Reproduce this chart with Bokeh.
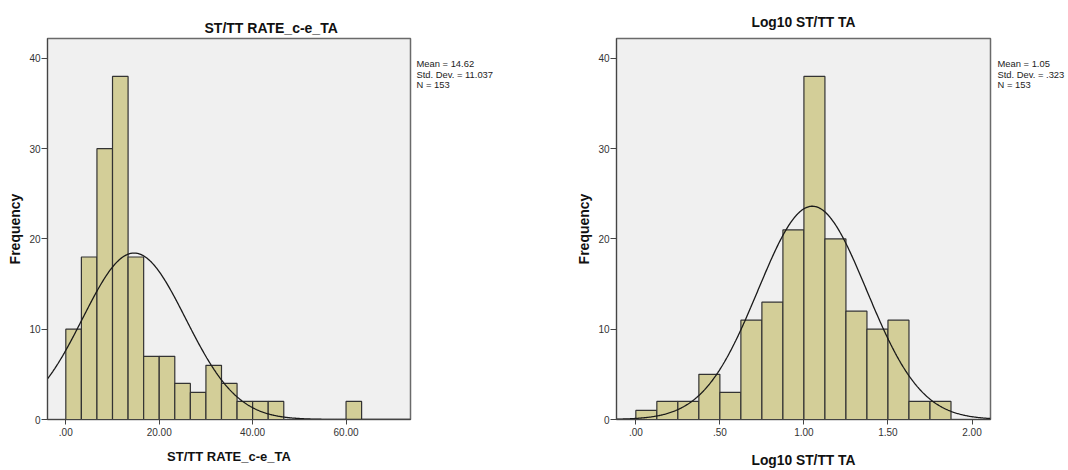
import numpy as np
from bokeh.plotting import figure
from bokeh.layouts import row
from bokeh.models import Range1d, FixedTicker
from bokeh.core.properties import value
from bokeh.embed import file_html
from bokeh.resources import INLINE

# ---------------- data ----------------
left_title = "ST/TT RATE_c-e_TA"
left_bin_start = 0.0
left_bin_width = 10 / 3
left_counts = [10, 18, 30, 38, 18, 7, 7, 4, 3, 6, 4, 2, 2, 2, 0, 0, 0, 0, 2]
left_mean, left_sd, left_n = 14.62, 11.037, 153
left_stats = ["Mean = 14.62", "Std. Dev. = 11.037", "N = 153"]
left_xticks = [0, 20, 40, 60]
left_xtick_labels = [".00", "20.00", "40.00", "60.00"]

right_title = "Log10 ST/TT TA"
right_bin_start = 0.0
right_bin_width = 0.125
right_counts = [1, 2, 2, 5, 3, 11, 13, 21, 38, 20, 12, 10, 11, 2, 2]
right_mean, right_sd, right_n = 1.05, 0.323, 153
right_stats = ["Mean = 1.05", "Std. Dev. = .323", "N = 153"]
right_xticks = [0, 0.5, 1, 1.5, 2]
right_xtick_labels = [".00", ".50", "1.00", "1.50", "2.00"]

yticks = [0, 10, 20, 30, 40]
ytick_labels = ["0", "10", "20", "30", "40"]
y_label = "Frequency"

FONT = "Liberation Sans"
H = 470
TOP, BOTTOM = 38, 49
Y_END = 42.2


def make_hist(title, counts, bin_start, bin_width, mean, sd, n,
              xticks, xtick_labels, x_range, width, mb_left,
              title_align, title_offset, title_standoff, title_size,
              xlab_size, xlab_standoff, ylab_standoff):
    p = figure(width=width, height=H, output_backend="svg",
               toolbar_location=None, tools="",
               x_range=Range1d(*x_range), y_range=Range1d(0, Y_END),
               min_border_left=mb_left, min_border_right=3,
               min_border_top=TOP, min_border_bottom=BOTTOM)
    p.background_fill_color = "#F0F0F0"
    p.border_fill_color = "white"
    p.outline_line_color = "#6a6a6a"
    p.outline_line_width = 1.5
    p.grid.visible = False

    lefts = [bin_start + i * bin_width for i in range(len(counts))]
    rights = [l + bin_width for l in lefts]
    nz = [i for i, c in enumerate(counts) if c > 0]
    p.quad(left=[lefts[i] for i in nz], right=[rights[i] for i in nz],
           bottom=0, top=[counts[i] for i in nz],
           fill_color="#D3CE98", line_color="#333333", line_width=1.2)

    xs = np.linspace(x_range[0], x_range[1], 500)
    peak = n * bin_width / (sd * np.sqrt(2 * np.pi))
    ys = peak * np.exp(-0.5 * ((xs - mean) / sd) ** 2)
    p.line(xs, ys, line_color="#1a1a1a", line_width=1.3)

    p.title.text = title
    p.title.align = title_align
    p.title.offset = title_offset
    p.title.standoff = title_standoff
    p.title.text_font = FONT
    p.title.text_font_style = "bold"
    p.title.text_font_size = title_size
    p.title.text_color = "#111111"

    for ax in (p.xaxis[0], p.yaxis[0]):
        ax.axis_line_color = "#444444"
        ax.major_tick_line_color = "#444444"
        ax.major_tick_in = 0
        ax.minor_tick_line_color = None
        ax.major_label_text_font = FONT
        ax.major_label_text_font_size = "10px"
        ax.major_label_text_color = "#333333"
        ax.axis_label_text_font = FONT
        ax.axis_label_text_font_style = "bold"
        ax.axis_label_text_color = "#111111"

    p.xaxis.ticker = FixedTicker(ticks=xticks)
    p.xaxis.major_label_overrides = {t: l for t, l in zip(xticks, xtick_labels)}
    p.xaxis.major_tick_out = 5
    p.xaxis.major_label_standoff = 3
    p.xaxis.axis_label = title
    p.xaxis.axis_label_text_font_size = xlab_size
    p.xaxis.axis_label_standoff = xlab_standoff

    p.yaxis.ticker = FixedTicker(ticks=yticks)
    p.yaxis.major_label_overrides = {t: l for t, l in zip(yticks, ytick_labels)}
    p.yaxis.major_tick_out = 6
    p.yaxis.major_label_standoff = 1
    p.yaxis.axis_label = y_label
    p.yaxis.axis_label_text_font_size = "14px"
    p.yaxis.axis_label_standoff = ylab_standoff
    return p


def make_stats(stats, width, x0):
    s = figure(width=width, height=H, output_backend="svg", title=None,
               toolbar_location=None, tools="",
               x_axis_type=None, y_axis_type=None,
               x_range=Range1d(0, width), y_range=Range1d(0, Y_END),
               min_border_left=0, min_border_right=0,
               min_border_top=TOP, min_border_bottom=BOTTOM)
    s.outline_line_color = None
    s.grid.visible = False
    s.background_fill_color = "white"
    s.border_fill_color = "white"
    frame_h = H - TOP - BOTTOM
    px_below_top = [25.5 + 10.5 * k for k in range(len(stats))]
    ys = [Y_END * (1 - d / frame_h) for d in px_below_top]
    s.text(x=[x0] * len(stats), y=ys, text=stats,
           text_font=value(FONT), text_font_size="9.4px",
           text_color="#222222", text_baseline="middle", text_align="left")
    return s


p1 = make_hist(left_title, left_counts, left_bin_start, left_bin_width,
               left_mean, left_sd, left_n, left_xticks, left_xtick_labels,
               (-3.92, 73.8), 413, 47, "left", 157, 6, "14px", "13px", 10, 3)
s1 = make_stats(left_stats, 127, 3)
p2 = make_hist(right_title, right_counts, right_bin_start, right_bin_width,
               right_mean, right_sd, right_n, right_xticks, right_xtick_labels,
               (-0.115, 2.11), 453, 76, "center", 0, 17, "13.8px", "13.8px",
               14, 3)
s2 = make_stats(right_stats, 75, 4)

layout = row(p1, s1, p2, s2)
open("out.html", "w").write(file_html(layout, INLINE))
